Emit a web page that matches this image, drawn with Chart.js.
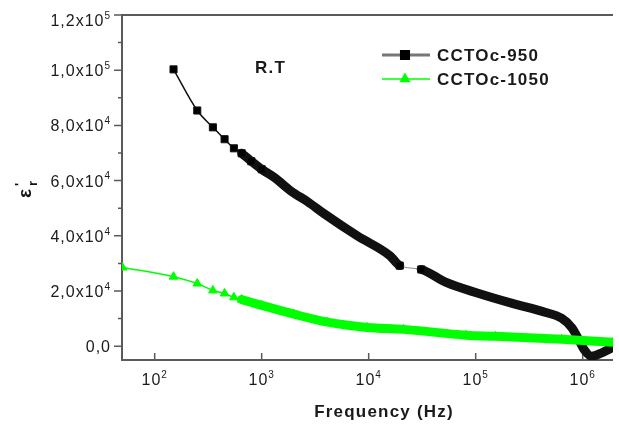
<!DOCTYPE html>
<html>
<head>
<meta charset="utf-8">
<script src="https://cdn.jsdelivr.net/npm/chart.js@4.4.0/dist/chart.umd.min.js"></script>
<style>
  body { margin: 0; background: #fff; }
  #wrap { position: relative; width: 619px; height: 425px; }
</style>
</head>
<body>
<div id="wrap"><canvas id="chart"></canvas></div>
<script>
// CCTOc-950
const freq950 = [150, 250, 350, 450, 550, 650, 800, 1000, 1340, 1880, 2700, 3870, 7810, 15800, 19500,
                 31000, 53000, 107000, 220000, 444000, 637000, 788000, 896000, 1040000, 1210000, 1490000, 1920000];
const eps950 = [100300, 85400, 79300, 75000, 71700, 69900, 67000, 64100, 60900, 56200, 52300, 47900, 40000, 32800, 29200,
                27800, 23100, 19100, 15500, 12300, 10100, 6800, 3200, -1400, -3600, -2500, -400];
// CCTOc-1050
const freq1050 = [50, 150, 250, 350, 450, 550, 650, 1000, 2000, 4130, 9660, 21200, 81000, 153000, 637000, 1920000];
const eps1050 = [28500, 25200, 22700, 20200, 19100, 17700, 16900, 14800, 11600, 8700, 6800, 6100, 4000, 3600, 2500, 1400];

// ticks
const xTicks = [100, 1000, 10000, 100000, 1000000];
const xTickExp = ['2', '3', '4', '5', '6'];
const yTicks = [0, 20000, 40000, 60000, 80000, 100000, 120000];
const yTickBase = ['0,0', '2,0x10', '4,0x10', '6,0x10', '8,0x10', '1,0x10', '1,2x10'];
const yTickExp = ['', '4', '4', '4', '4', '5', '5'];
const yMinor = [10000, 30000, 50000, 70000, 90000, 110000];

// sweep points pile up into a solid band from here on
const denseFrom = 650;
const gap950 = [19500, 31000];

function bandWidth(gap, w) {
    return c => {
        const a = c.p0.parsed.x, b = c.p1.parsed.x;
        if (gap && a >= gap[0] && b <= gap[1]) return 1;
        return a >= denseFrom ? w : 1.5;
    };
}

// black squares only stand out where the sweep is sparse (and at the gap)
function squareSize(c) {
    const f = c.parsed ? c.parsed.x : 0;
    if (f <= 1000 || f === gap950[0] || f === gap950[1]) return 5;
    return 0;
}

function supText(ctx, base, exp, x, y, size, align) {
    const f1 = size + 'px "Liberation Sans", Arial, sans-serif';
    const f2 = Math.round(size * 0.62) + 'px "Liberation Sans", Arial, sans-serif';
    ctx.font = f1;
    const w1 = ctx.measureText(base).width;
    ctx.font = f2;
    const w2 = exp ? ctx.measureText(exp).width : 0;
    let left = x;
    if (align === 'right') left = x - w1 - w2;
    if (align === 'center') left = x - (w1 + w2) / 2;
    ctx.textAlign = 'left';
    ctx.textBaseline = 'alphabetic';
    ctx.font = f1;
    ctx.fillText(base, left, y);
    if (exp) {
        ctx.font = f2;
        ctx.fillText(exp, left + w1, y - size * 0.45);
    }
}

const frame = {
    id: 'frame',
    beforeDatasetsDraw(chart) {
        const { ctx, chartArea: a, scales: { x, y } } = chart;
        ctx.save();
        ctx.strokeStyle = '#5a5a5a';
        ctx.lineWidth = 2;
        ctx.beginPath();
        ctx.moveTo(a.right, a.top);
        ctx.lineTo(a.left, a.top);
        ctx.lineTo(a.left, a.bottom);
        ctx.lineTo(a.right, a.bottom);
        ctx.stroke();
        ctx.lineWidth = 1.5;
        ctx.beginPath();
        yTicks.forEach(v => {
            const py = y.getPixelForValue(v);
            ctx.moveTo(a.left - 8, py);
            ctx.lineTo(a.left, py);
        });
        yMinor.forEach(v => {
            const py = y.getPixelForValue(v);
            ctx.moveTo(a.left - 4, py);
            ctx.lineTo(a.left + 1, py);
        });
        xTicks.forEach(v => {
            const px = x.getPixelForValue(v);
            ctx.moveTo(px, a.bottom);
            ctx.lineTo(px, a.bottom - 7);
        });
        ctx.stroke();
        ctx.restore();
    },
    afterDraw(chart) {
        const { ctx, scales: { x, y } } = chart;
        ctx.save();
        ctx.fillStyle = '#1a1a1a';
        ctx.letterSpacing = '1px';
        yTicks.forEach((v, i) => {
            const py = Math.max(y.getPixelForValue(v), 20);
            supText(ctx, yTickBase[i], yTickExp[i], 111, py + 6, 16, 'right');
        });
        xTicks.forEach((v, i) => {
            supText(ctx, '10', xTickExp[i], x.getPixelForValue(v), 385, 16, 'center');
        });

        ctx.letterSpacing = '1.2px';
        ctx.font = 'bold 17px "Liberation Sans", Arial, sans-serif';
        ctx.textAlign = 'center';
        ctx.fillText('Frequency (Hz)', 384, 417);
        ctx.textAlign = 'left';
        ctx.fillText('R.T', 255, 73);

        // legend
        const ds = chart.data.datasets;
        [55, 79].forEach((ly, i) => {
            const d = ds[i];
            ctx.strokeStyle = i === 0 ? '#777' : d.borderColor;
            ctx.lineWidth = i === 0 ? 3 : 1.5;
            ctx.beginPath();
            ctx.moveTo(382, ly);
            ctx.lineTo(430, ly);
            ctx.stroke();
            ctx.fillStyle = d.backgroundColor;
            ctx.strokeStyle = d.backgroundColor;
            Chart.helpers.drawPoint(ctx, { pointStyle: d.pointStyle, radius: 5, borderWidth: 1 }, 405, ly);
            ctx.fillStyle = '#1a1a1a';
            ctx.fillText(d.label, 437, ly + 6);
        });

        // y axis title: eps'_r
        ctx.letterSpacing = '0px';
        ctx.fillStyle = '#111';
        ctx.translate(31, 198);
        ctx.rotate(-Math.PI / 2);
        ctx.font = 'bold 19px "Liberation Sans", Arial, sans-serif';
        ctx.fillText('ε', 0, 0);
        ctx.font = 'bold 13px "Liberation Sans", Arial, sans-serif';
        ctx.fillText("'", 12, -7);
        ctx.fillText('r', 12, 6);
        ctx.restore();
    }
};

new Chart(document.getElementById('chart'), {
    type: 'line',
    data: {
        datasets: [{
            label: 'CCTOc-950',
            data: freq950.map((f, i) => ({ x: f, y: eps950[i] })),
            borderColor: '#111',
            backgroundColor: '#000',
            pointStyle: 'rect',
            pointRadius: squareSize,
            pointBorderWidth: 1,
            cubicInterpolationMode: 'monotone',
            borderJoinStyle: 'round',
            borderCapStyle: 'round',
            segment: {
                borderWidth: bandWidth(gap950, 9),
                borderColor: c => (c.p0.parsed.x >= gap950[0] && c.p1.parsed.x <= gap950[1]) ? '#888' : '#111'
            },
            order: 1
        }, {
            label: 'CCTOc-1050',
            data: freq1050.map((f, i) => ({ x: f, y: eps1050[i] })),
            borderColor: '#00ff00',
            backgroundColor: '#00ff00',
            pointStyle: 'triangle',
            pointRadius: 5,
            pointBorderWidth: 1,
            cubicInterpolationMode: 'monotone',
            borderJoinStyle: 'round',
            borderCapStyle: 'round',
            segment: { borderWidth: bandWidth(null, 9) },
            order: 0
        }]
    },
    options: {
        responsive: true,
        maintainAspectRatio: false,
        animation: false,
        layout: { padding: { left: 122, top: 15, right: 0, bottom: 65 } },
        plugins: { legend: { display: false }, tooltip: { enabled: false } },
        scales: {
            x: { type: 'logarithmic', min: 49.5, max: 1920000, display: false },
            y: { type: 'linear', min: -5000, max: 120000, display: false }
        }
    },
    plugins: [frame]
});
</script>
</body>
</html>
